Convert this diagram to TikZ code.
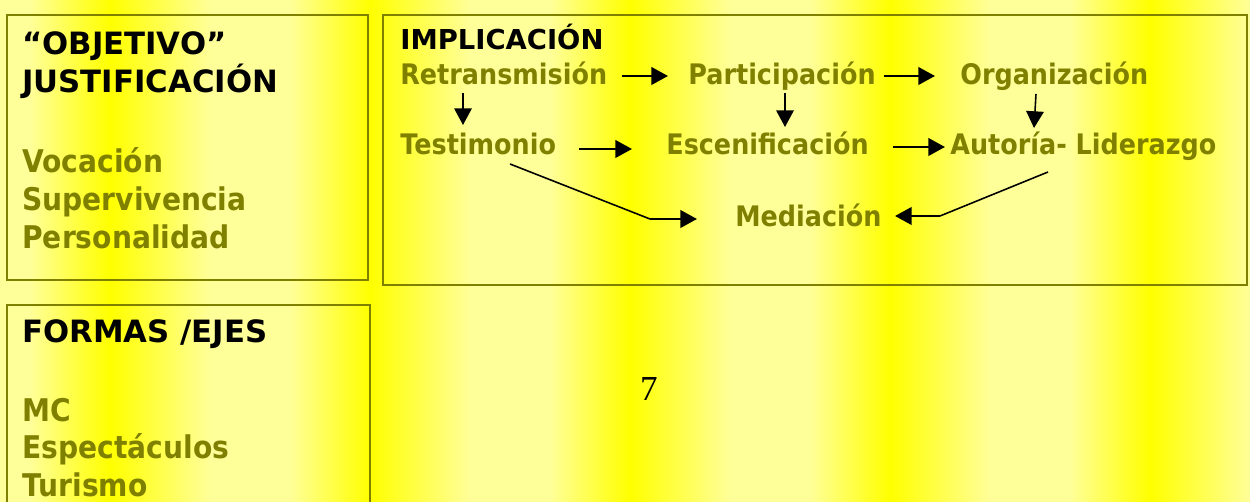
\documentclass[tikz,border=0pt]{standalone}
\usepackage{fontspec}
\setmainfont{DejaVu Sans}
\newfontfamily\itemfont[FakeStretch=0.9]{DejaVu Sans}
\newfontfamily\numfont{Liberation Serif}
\usetikzlibrary{arrows.meta,calc}
\definecolor{pale}{HTML}{FFFF99}
\definecolor{hot}{HTML}{FFFF00}
\definecolor{olivetxt}{HTML}{808000}

\begin{document}
\begin{tikzpicture}[x=0.02cm, y=-0.02cm,
  >={Triangle[length=9.5pt,width=10pt]},
  box/.style={draw=olivetxt, line width=1.1pt},
  head/.style={font=\bfseries\fontsize{17.5}{20}\selectfont, black, anchor=base west, inner sep=0pt},
  hd/.style={font=\bfseries\fontsize{15.6}{18}\selectfont, black, anchor=base west, inner sep=0pt},
  item/.style={font=\itemfont\bfseries\fontsize{17.8}{20}\selectfont, olivetxt, anchor=base west, inner sep=0pt},
  step2/.style={font=\itemfont\bfseries\fontsize{16.1}{19}\selectfont, olivetxt, anchor=base west, inner sep=0pt},
  flow/.style={->, line width=1.4pt, black},
  drop/.style={->, line width=0.9pt, black},
  link/.style={line width=0.9pt, black},
]
\useasboundingbox (0,0) rectangle (1250,502);

% ======================= striped background =======================
\fill[pale] (0,0) rectangle (1250,502);
\foreach \p in {110,370,630,890,1150} {
  \shade[left color=pale, right color=hot] (\p-80,0) rectangle (\p,502);
  \shade[left color=hot, right color=pale] (\p,0) rectangle (\p+100,502);
}

% ======================= Box 1: objetivo ==========================
\draw[box] (7,15) rectangle (368,280);
\node[head] (obj) at (22,55) {“OBJETIVO”};
\node[head] (just) at (22,93) {JUSTIFICACIÓN};
\node[item] (voc) at (22,173) {Vocación};
\node[item] (sup) at (22,211) {Supervivencia};
\node[item] (per) at (22,249) {Personalidad};

% ======================= Box 3: formas ============================
\draw[box] (7,305) rectangle (370,530);
\node[head] (formas) at (22,343) {FORMAS /EJES};
\node[item] (mc) at (22,422) {MC};
\node[item] (esp) at (22,459) {Espectáculos};
\node[item] (tur) at (22,497) {Turismo};

% page number
\node[font=\numfont\fontsize{20}{24}\selectfont, inner sep=0pt] (seven) at (649,389) {7};

% ======================= Box 2: implicacion =======================
\draw[box] (383,15) rectangle (1247,285);
\node[hd] (impl) at (400,50) {IMPLICACIÓN};
\node[step2] (retr) at (400,85) {Retransmisión};
\node[step2] (part) at (688,85) {Participación};
\node[step2] (org) at (960,85) {Organización};
\node[step2] (test) at (400,155) {Testimonio};
\node[step2] (esc) at (666,155) {Escenificación};
\node[step2] (aut) at (950,155) {Autoría- Liderazgo};
\node[step2] (med) at (735,227) {Mediación};

% horizontal flow
\draw[flow] ($(retr.base east)+(14,-9)$) -- ($(part.base west)+(-20,-9)$);
\draw[flow] ($(part.base east)+(8,-9)$) -- ($(org.base west)+(-25,-9)$);
\draw[flow] ($(test.base east)+(23,-6)$) -- ($(esc.base west)+(-34,-6)$);
\draw[flow] ($(esc.base east)+(24,-8)$) -- ($(aut.base west)+(-5,-8)$);

% vertical drops
\draw[drop] ($(retr.base west)+(63,8)$) -- ($(test.base west)+(63,-30)$);
\draw[drop] ($(part.base west)+(97,8)$) -- ($(esc.base west)+(119,-28)$);
\draw[drop] ($(org.base west)+(76,9)$) -- ($(aut.base west)+(84,-27)$);

% into mediacion
\coordinate (bendL) at ($(med.base west)+(-85,-8)$);
\coordinate (bendR) at ($(med.base west)+(205,-11)$);
\draw[link] ($(test.base west)+(110,9)$) -- (bendL);
\draw[flow] (bendL) -- ($(med.base west)+(-38,-8)$);
\draw[link] ($(aut.base west)+(98,17)$) -- (bendR);
\draw[flow] (bendR) -- ($(med.base west)+(160,-11)$);

\end{tikzpicture}
\end{document}
